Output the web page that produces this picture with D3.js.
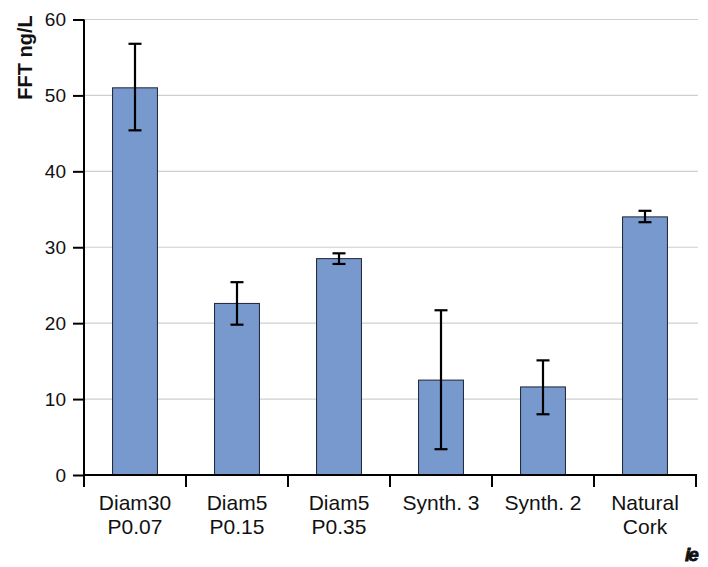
<!DOCTYPE html>
<html><head><meta charset="utf-8">
<script src="https://cdn.jsdelivr.net/npm/d3@7"></script>
<style>body{margin:0;background:#fff}svg{display:block}text{font-family:"Liberation Sans",Arial,sans-serif}</style>
</head><body>
<svg id="c" width="708" height="567"></svg>
<script>
const categories = [["Diam30","P0.07"],["Diam5","P0.15"],["Diam5","P0.35"],["Synth. 3"],["Synth. 2"],["Natural","Cork"]];
const values = [51.0, 22.6, 28.5, 12.5, 11.6, 34.0];
const errLow = [45.4, 19.8, 27.8, 3.4, 8.0, 33.3];
const errHigh = [56.8, 25.4, 29.2, 21.7, 15.1, 34.8];
const yTicks = [0,10,20,30,40,50,60];
const yTitle = "FFT ng/L";

(function(){
const svg = d3.select("#c");
const mL = 84, mR = 696, mT = 19.5, mB = 475;
const keys = categories.map((d,i)=>i);
const x = d3.scaleBand().domain(keys).range([mL,mR]).paddingInner(0.56).paddingOuter(0.28);
const y = d3.scaleLinear().domain([0,60]).range([mB,mT]);

// gridlines
svg.append("g").selectAll("line").data(yTicks.filter(t=>t>0)).join("line")
  .attr("x1",mL).attr("x2",mR+2).attr("y1",d=>y(d)).attr("y2",d=>y(d))
  .attr("stroke","#cfcfcf").attr("stroke-width",1.2);

// bars
svg.append("g").selectAll("rect").data(values).join("rect")
  .attr("x",(d,i)=>x(i)).attr("width",x.bandwidth())
  .attr("y",d=>y(d)).attr("height",d=>mB-y(d))
  .attr("fill","#7899ce").attr("stroke","#1c2233").attr("stroke-width",1);

// error bars
const eg = svg.append("g").attr("stroke","#000").attr("stroke-width",2.2);
keys.forEach(i=>{
  const cx = x(i)+x.bandwidth()/2;
  eg.append("line").attr("x1",cx).attr("x2",cx).attr("y1",y(errLow[i])).attr("y2",y(errHigh[i]));
  eg.append("line").attr("x1",cx-6.5).attr("x2",cx+6.5).attr("y1",y(errLow[i])).attr("y2",y(errLow[i]));
  eg.append("line").attr("x1",cx-6.5).attr("x2",cx+6.5).attr("y1",y(errHigh[i])).attr("y2",y(errHigh[i]));
});

// y axis
const ya = svg.append("g").attr("transform",`translate(${mL},0)`)
  .call(d3.axisLeft(y).tickValues(yTicks).tickSize(11).tickPadding(7));
ya.select(".domain").attr("stroke","#000").attr("stroke-width",2).attr("d",`M0,${mB}V${mT}`);
ya.selectAll(".tick line").attr("stroke","#000").attr("stroke-width",2);
ya.selectAll(".tick text").attr("font-size",19).attr("fill","#111").attr("font-family","'Liberation Sans',Arial,sans-serif");

// x axis
const xa = svg.append("g").attr("transform",`translate(0,${mB})`);
xa.append("line").attr("x1",mL-1).attr("x2",mR+1).attr("y1",0).attr("y2",0).attr("stroke","#000").attr("stroke-width",2);
const bounds = keys.map(i=>x(i)-x.step()*x.paddingInner()/2).concat([mR]);
xa.selectAll("line.t").data(bounds).join("line").attr("class","t")
  .attr("x1",d=>d).attr("x2",d=>d).attr("y1",0).attr("y2",12).attr("stroke","#000").attr("stroke-width",2);
keys.forEach(i=>{
  const t = xa.append("text").attr("x",x(i)+x.bandwidth()/2).attr("y",35)
    .attr("text-anchor","middle").attr("font-size",21).attr("fill","#111");
  categories[i].forEach((ln,j)=>t.append("tspan").attr("x",x(i)+x.bandwidth()/2).attr("dy",j?24:0).text(ln));
});

// y title
svg.append("text").attr("transform","translate(32,57.5) rotate(-90)").attr("text-anchor","middle")
  .attr("font-size",20).attr("font-weight","bold").attr("fill","#111").text(yTitle);

// logo
svg.append("text").attr("x",691).attr("y",561).attr("text-anchor","middle").attr("letter-spacing",-2)
  .attr("font-size",19).attr("font-weight","bold").attr("font-style","italic").attr("fill","#111")
  .attr("stroke","#111").attr("stroke-width",0.8).text("ie");
})();
</script>
</body></html>
